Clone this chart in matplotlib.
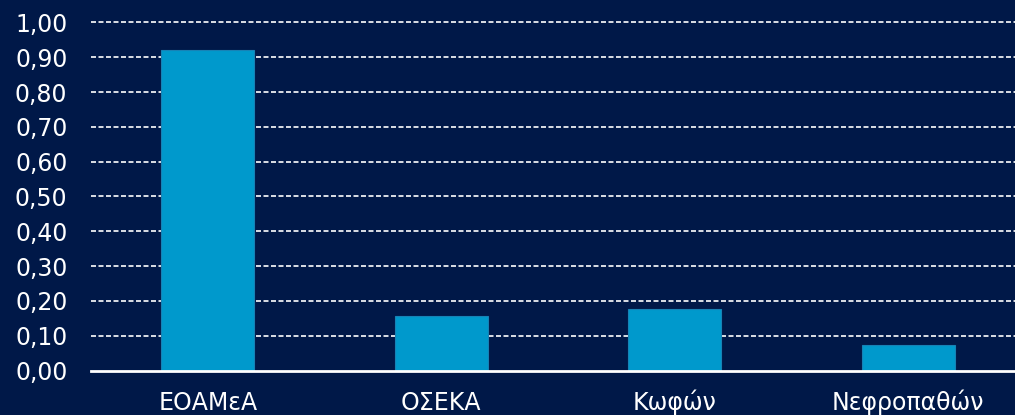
import matplotlib.pyplot as plt
from matplotlib.ticker import FuncFormatter

categories = ['ΕΟΑΜεΑ', 'ΟΣΕΚΑ', 'Κωφών', 'Νεφροπαθών']
values = [0.92, 0.156, 0.177, 0.073]
yticks = [0.0, 0.1, 0.2, 0.3, 0.4, 0.5, 0.6, 0.7, 0.8, 0.9, 1.0]

bg = '#001848'
bar_color = '#0099CC'

W, H = 1015, 415
fig = plt.figure(figsize=(W / 100, H / 100), dpi=100, facecolor=bg)
left, right = 91, 1015
y0, y1 = 370.5, 22.5
ax = fig.add_axes([left / W, (H - y0) / H, (right - left) / W, (y0 - y1) / H])
ax.set_facecolor(bg)

x = range(len(categories))
ax.bar(x, values, width=0.4, color=bar_color, edgecolor='#1782b5', linewidth=0.8, zorder=3)

ax.set_ylim(0, 1.0)
ax.set_xlim(-0.5, -0.5 + (right - left) / 233.5)
ax.set_yticks(yticks)
ax.yaxis.set_major_formatter(FuncFormatter(lambda v, p: f'{v:.2f}'.replace('.', ',')))
ax.set_xticks(list(x))
ax.set_xticklabels(categories)

for v in yticks[1:]:
    ax.axhline(v, color='white', linestyle=(0, (3, 1.5)), linewidth=1.2, zorder=1, clip_on=False)
ax.axhline(0, color='white', linewidth=2, zorder=4, clip_on=False)

for s in ax.spines.values():
    s.set_visible(False)
ax.tick_params(axis='both', length=0, colors='white', labelsize=17)
ax.tick_params(axis='y', pad=17)
ax.tick_params(axis='x', pad=28.5)
for lab in ax.get_xticklabels():
    lab.set_va('baseline')

fig.savefig('out.png', dpi=100, facecolor=bg)
